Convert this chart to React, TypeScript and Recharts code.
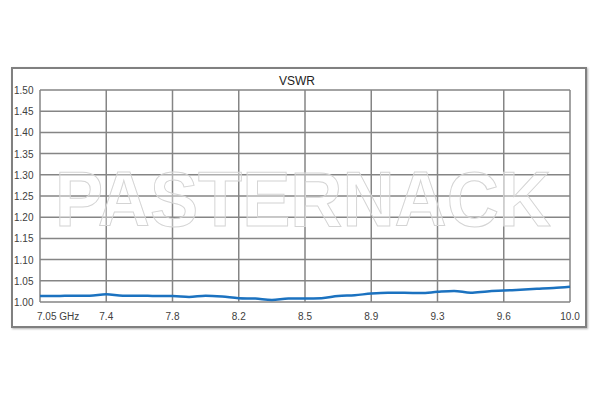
import { LineChart, Line, XAxis, YAxis, CartesianGrid } from "recharts";

// frequency tick labels (evenly spaced on the category axis)
const freqLabels = ["7.05 GHz", "7.4", "7.8", "8.2", "8.5", "8.9", "9.3", "9.6", "10.0"];
const yTicks = [1.0, 1.05, 1.1, 1.15, 1.2, 1.25, 1.3, 1.35, 1.4, 1.45, 1.5];

// VSWR sampled at quarter steps between the labelled gridlines
const vswr = [
  1.014, 1.014, 1.015, 1.015, 1.018, 1.015, 1.015, 1.014,
  1.014, 1.012, 1.015, 1.013, 1.009, 1.008, 1.005, 1.008,
  1.008, 1.009, 1.014, 1.016, 1.02, 1.022, 1.022, 1.021,
  1.024, 1.026, 1.022, 1.025, 1.027, 1.029, 1.031, 1.033, 1.036,
];

const data = vswr.map((v, i) => ({ idx: i / 4, v }));
const FONT = "'Liberation Sans', Arial, sans-serif";

const YTick = ({ y, payload }: any) => (
  <text x={14} y={y} dy={4} fill="#404040" fontSize={10} fontFamily={FONT}>
    {Number(payload.value).toFixed(2)}
  </text>
);

const XTick = ({ x, payload }: any) => {
  const first = payload.value === 0;
  return (
    <text
      x={first ? x - 3 : x}
      y={320}
      textAnchor={first ? "start" : "middle"}
      fill="#404040"
      fontSize={10}
      fontFamily={FONT}
    >
      {freqLabels[payload.value]}
    </text>
  );
};

export default function App() {
  return (
    <div style={{ position: "absolute", left: 0, top: 0, width: 600, height: 400, background: "#fff" }}>
      <div
        style={{
          position: "absolute",
          left: 11,
          top: 67,
          width: 572,
          height: 257,
          border: "2px solid #808080",
          boxShadow: "1px 1px 2px #b0b0b0",
        }}
      />
      <div style={{ position: "absolute", left: 0, top: 0 }}>
        <LineChart width={600} height={400} data={data} margin={{ top: 90, right: 30, bottom: 68, left: 12 }}>
          <CartesianGrid stroke="#858585" strokeWidth={1.5} />
          <XAxis
            dataKey="idx"
            type="number"
            domain={[0, 8]}
            ticks={[0, 1, 2, 3, 4, 5, 6, 7, 8]}
            interval={0}
            axisLine={false}
            tickLine={false}
            height={30}
            tick={<XTick />}
          />
          <YAxis
            type="number"
            domain={[1, 1.5]}
            ticks={yTicks}
            interval={0}
            axisLine={false}
            tickLine={false}
            width={28}
            tick={<YTick />}
          />
          <Line
            dataKey="v"
            type="monotone"
            stroke="#1b72c0"
            strokeWidth={2.5}
            dot={false}
            isAnimationActive={false}
          />
        </LineChart>
      </div>
      <svg width={600} height={400} style={{ position: "absolute", left: 0, top: 0, pointerEvents: "none" }}>
        <text x={297} y={85} textAnchor="middle" fontSize={12} fill="#222" fontFamily={FONT}>
          VSWR
        </text>
        <text
          x={55}
          y={226}
          fontSize={78}
          fontWeight="bold"
          fontFamily={FONT}
          textLength={496}
          lengthAdjust="spacingAndGlyphs"
          fill="rgba(255,255,255,0.35)"
          stroke="#d4d4d4"
          strokeWidth={1}
        >
          PASTERNACK
        </text>
      </svg>
    </div>
  );
}
